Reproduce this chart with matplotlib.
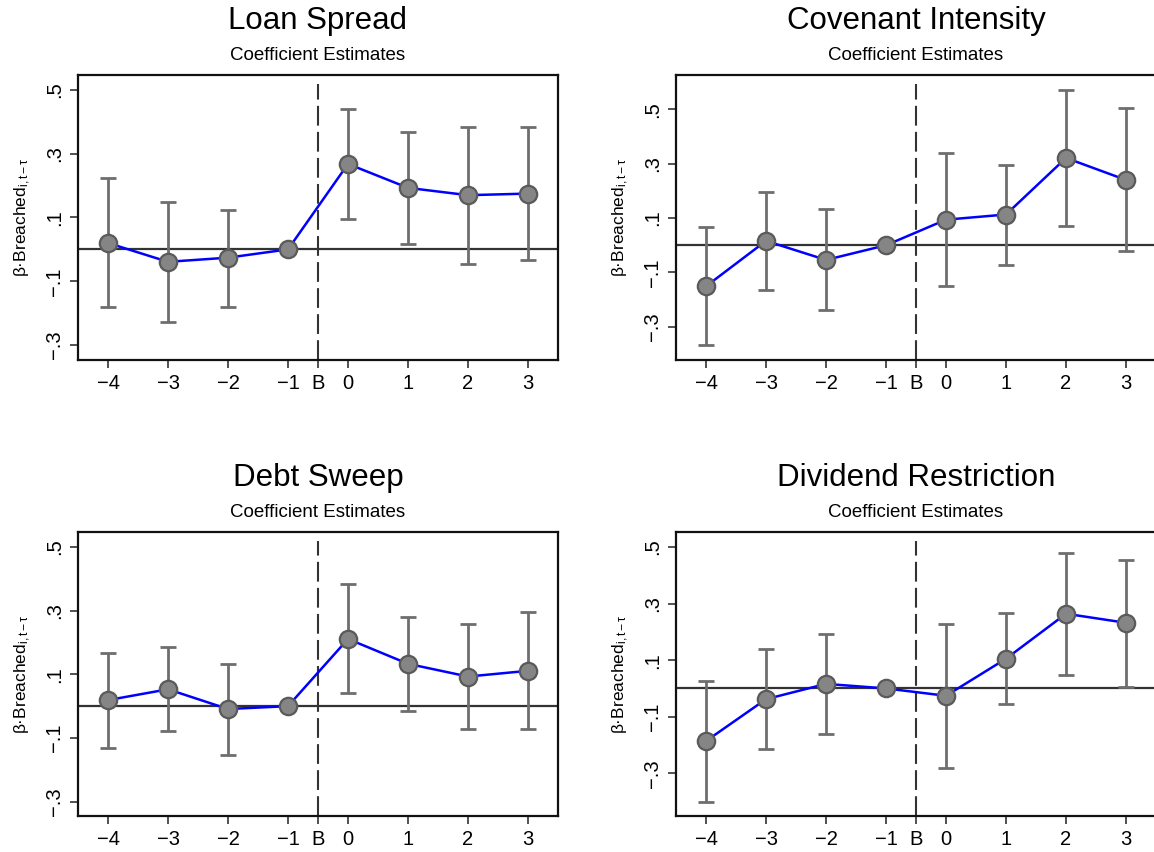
import numpy as np
import matplotlib
matplotlib.use("Agg")
import matplotlib.pyplot as plt

plt.rcParams['font.family'] = ['Liberation Sans', 'DejaVu Sans']
plt.rcParams['mathtext.fontset'] = 'custom'
plt.rcParams['mathtext.rm'] = 'Liberation Sans'
plt.rcParams['mathtext.it'] = 'Liberation Sans'

# event time (relative to breach); -1 is the omitted reference period
periods = [-4, -3, -2, -1, 0, 1, 2, 3]
tick_pos = [-4, -3, -2, -1, -0.5, 0, 1, 2, 3]
tick_lab = ["\u22124", "\u22123", "\u22122", "\u22121", "B", "0", "1", "2", "3"]
ytick_val = [-0.3, -0.1, 0.1, 0.3, 0.5]
ytick_lab = ["\u2212.3", "\u2212.1", ".1", ".3", ".5"]

titles = ["Loan Spread", "Covenant Intensity", "Debt Sweep", "Dividend Restriction"]

# coefficient estimates and 95% CI bounds (None = reference period)
coef_spread = [0.020, -0.039, -0.026, 0.0, 0.268, 0.193, 0.170, 0.175]
hi_spread = [0.223, 0.150, 0.125, None, 0.440, 0.369, 0.383, 0.383]
lo_spread = [-0.182, -0.227, -0.180, None, 0.095, 0.018, -0.045, -0.033]

coef_cov = [-0.151, 0.016, -0.054, 0.0, 0.094, 0.113, 0.321, 0.240]
hi_cov = [0.067, 0.195, 0.132, None, 0.338, 0.294, 0.571, 0.504]
lo_cov = [-0.368, -0.164, -0.239, None, -0.151, -0.071, 0.072, -0.023]

coef_sweep = [0.019, 0.053, -0.009, 0.0, 0.211, 0.133, 0.093, 0.111]
hi_sweep = [0.167, 0.185, 0.132, None, 0.384, 0.281, 0.257, 0.295]
lo_sweep = [-0.130, -0.077, -0.152, None, 0.041, -0.015, -0.073, -0.073]

coef_div = [-0.186, -0.038, 0.016, 0.0, -0.026, 0.105, 0.264, 0.232]
hi_div = [0.026, 0.139, 0.194, None, 0.227, 0.266, 0.478, 0.455]
lo_div = [-0.400, -0.213, -0.162, None, -0.280, -0.056, 0.048, 0.006]

coefs = [coef_spread, coef_cov, coef_sweep, coef_div]
his = [hi_spread, hi_cov, hi_sweep, hi_div]
los = [lo_spread, lo_cov, lo_sweep, lo_div]
ylims = [(-0.347, 0.547), (-0.422, 0.626), (-0.345, 0.547), (-0.451, 0.553)]

W, H = 1154, 852
fig = plt.figure(figsize=(W / 100, H / 100), dpi=100)

# axes boxes in pixels: left, top, width, height
boxes = [(78, 75, 480, 285), (676, 75, 480, 285),
         (78, 532, 480, 284), (676, 532, 480, 284)]

for i in range(4):
    l, t, w, h = boxes[i]
    ax = fig.add_axes([l / W, 1 - (t + h) / H, w / W, h / H])
    x = np.array(periods, dtype=float)
    c = np.array(coefs[i])

    # confidence intervals
    for xi, hv, lv in zip(x, his[i], los[i]):
        if hv is None:
            continue
        ax.errorbar([xi], [(hv + lv) / 2], yerr=[[(hv - lv) / 2], [(hv - lv) / 2]],
                    fmt='none', ecolor='#6e6e6e', elinewidth=2.0, capsize=6,
                    capthick=2.0, zorder=2)

    ax.axhline(0, color='#333333', lw=1.6, zorder=1)
    ax.axvline(-0.5, ymax=0.97, color='#333333', lw=1.5, dashes=(9.5, 3), zorder=1)
    ax.plot(x, c, color='#0000ff', lw=1.8, zorder=3)
    ax.plot(x, c, 'o', ms=12.5, mfc='#858585', mec='#5a5a5a', mew=1.6, zorder=4)

    ax.set_xlim(-4.5, 3.5)
    ax.set_ylim(*ylims[i])
    ax.set_xticks(tick_pos)
    ax.set_xticklabels(tick_lab, fontsize=14.5)
    ax.set_yticks(ytick_val)
    ax.set_yticklabels(ytick_lab, fontsize=14.5, rotation=90, va='center')
    ax.tick_params(direction='out', length=6, width=1.2, color='#333333', pad=4)
    for s in ax.spines.values():
        s.set_linewidth(1.6)
        s.set_color('#111111')
    ax.set_ylabel("\u03b2\u00b7Breached$_{\\mathrm{i,t\u2212\u03c4}}$", fontsize=12.5, labelpad=9)

    ax.annotate("Coefficient Estimates", xy=(0.5, 1), xycoords='axes fraction',
                xytext=(0, 11), textcoords='offset points', ha='center',
                va='baseline', fontsize=13.5)
    ax.annotate(titles[i], xy=(0.5, 1), xycoords='axes fraction',
                xytext=(0, 33), textcoords='offset points', ha='center',
                va='baseline', fontsize=22.5)

fig.savefig("out.png", dpi=100, facecolor='white')
